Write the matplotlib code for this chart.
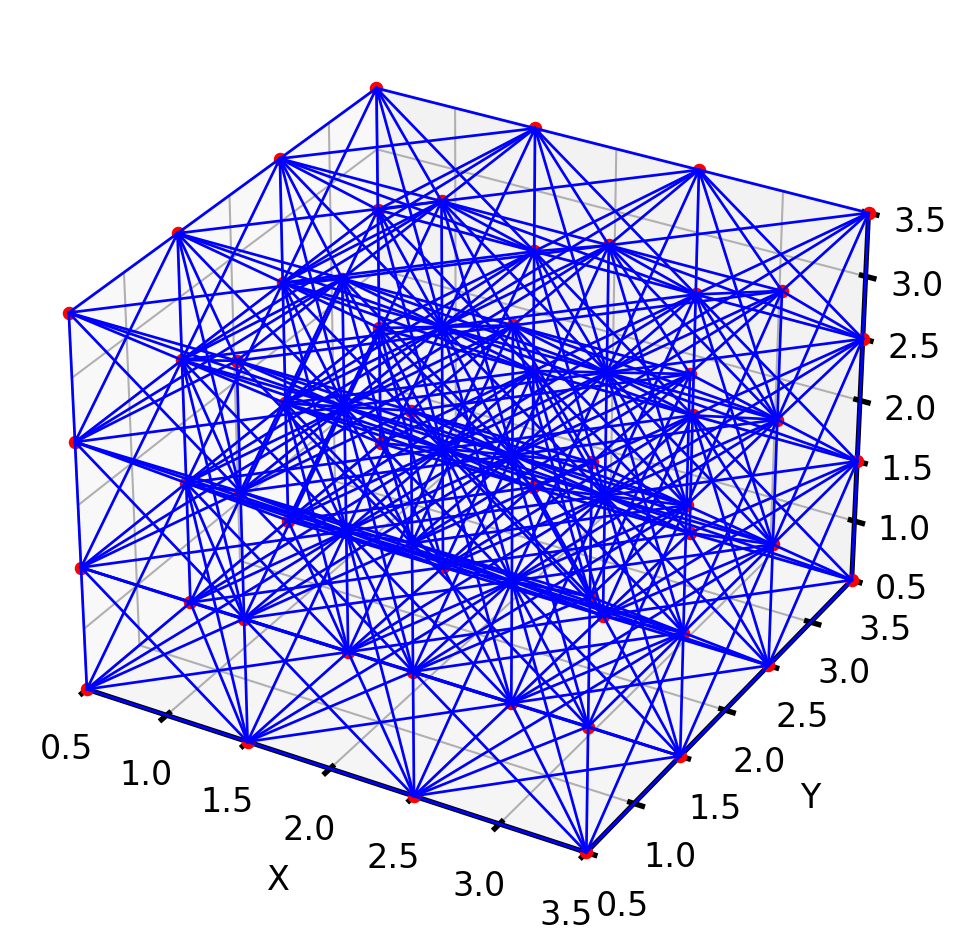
import matplotlib
matplotlib.use("Agg")
import matplotlib.pyplot as plt
from itertools import product, combinations

levels = [0.5, 1.5, 2.5, 3.5]
ticks = [0.5, 1.0, 1.5, 2.0, 2.5, 3.0, 3.5]
max_dist2 = 3

nodes = list(product(levels, levels, levels))

plt.rcParams["font.size"] = 8
plt.rcParams["axes.linewidth"] = 1.2
plt.rcParams["xtick.major.width"] = 1.3
plt.rcParams["ytick.major.width"] = 1.3
plt.rcParams["grid.linewidth"] = 0.5
fig = plt.figure(figsize=(967 / 300, 951 / 300), dpi=300)
ax = fig.add_axes([0.0127, 0.0447, 0.935, 0.935], projection="3d")
ax.computed_zorder = False

ax.scatter([n[0] for n in nodes], [n[1] for n in nodes], [n[2] for n in nodes],
           color="r", s=5, depthshade=False, zorder=1)

for a, b in combinations(nodes, 2):
    d2 = sum((p - q) ** 2 for p, q in zip(a, b))
    if d2 <= max_dist2:
        ax.plot([a[0], b[0]], [a[1], b[1]], [a[2], b[2]], color="b", lw=0.65, zorder=2)

ax.set_xlabel("X", labelpad=-2)
ax.set_ylabel("Y", labelpad=-2)
ax.set_xticks(ticks)
ax.set_yticks(ticks)
ax.set_zticks(ticks)
ax.set_xlim(0.5, 3.5)
ax.set_ylim(0.5, 3.5)
ax.set_zlim(0.5, 3.5)
ax.tick_params(axis="x", pad=-0.3)
ax.tick_params(axis="y", pad=-0.3)
ax.tick_params(axis="z", pad=-0.5)

fig.savefig("out.png", dpi=300)
